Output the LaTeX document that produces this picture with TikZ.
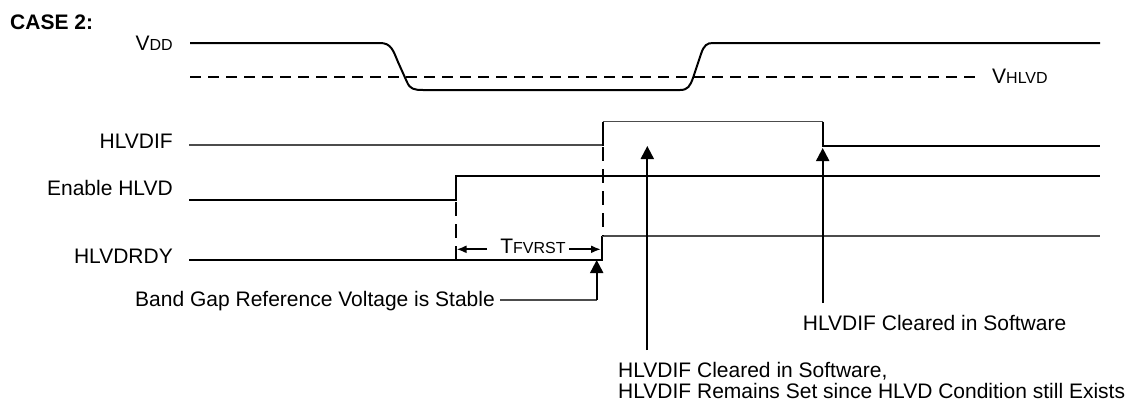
\documentclass[tikz,border=0pt]{standalone}
\usepackage{fontspec}
\setmainfont{Liberation Sans}
\usetikzlibrary{arrows.meta}
\newcommand\smcap[1]{{\fontsize{16}{16}\selectfont #1}}
\begin{document}
\begin{tikzpicture}[x=1pt,y=-1pt,
  lbl/.style={inner sep=0pt,font=\fontsize{21}{22}\selectfont},
  thickline/.style={line width=2pt,black},
  thinline/.style={line width=1.2pt,black!70},
  dashline/.style={line width=2pt,black,dash pattern=on 11pt off 7pt},
  vdashline/.style={line width=2pt,black,dash pattern=on 14pt off 8pt},
  uparrow/.style={line width=2pt,black,-{Triangle[length=13pt,width=13pt]}},
  dimarrow/.style={line width=2pt,black,-{Latex[length=10pt,width=8pt]}}]
\useasboundingbox (0,0) rectangle (1133,402);

% labels
\node[lbl,anchor=base west] (case) at (10,29) {\bfseries CASE 2:};
\node[lbl,anchor=base east] (vdd) at (173,50) {V\smcap{DD}};
\node[lbl,anchor=base west] (vhlvd) at (992,83) {V\smcap{HLVD}};
\node[lbl,anchor=base east] (hlvdif) at (173,148) {HLVDIF};
\node[lbl,anchor=base east] (en) at (173,195) {Enable HLVD};
\node[lbl,anchor=base east] (rdy) at (173,263) {HLVDRDY};

% VDD waveform
\draw[thickline] (190,43) -- (380,43)
  .. controls (391,43) and (393,50) .. (398,62) -- (407,82)
  .. controls (410,89) and (414,90) .. (423,90) -- (680,90)
  .. controls (688,90) and (690,86) .. (693,78) -- (701,54)
  .. controls (704,45) and (707,43) .. (713,43) -- (1100,43);
\draw[dashline] (190,77) -- (975,77);

% HLVDIF
\draw[thinline] (189,145) -- (602.7,145);
\draw[thickline] (602.7,146) -- (602.7,121.7);
\draw[thinline] (602.7,121.7) -- (822.7,121.7);
\draw[thickline] (822.7,121.7) -- (822.7,146) -- (1100,146);

% Enable HLVD
\draw[thickline] (189,199.5) -- (455.7,199.5) -- (455.7,175.7) -- (1100,175.7);

% HLVDRDY
\draw[thickline] (189,260) -- (601.7,260) -- (601.7,236);
\draw[thinline] (601.7,236) -- (1100,236);

% dashed markers
\draw[vdashline] (455.7,202) -- (455.7,259);
\draw[vdashline] (602.7,147) -- (602.7,236);

% TFVRST
\node[lbl,anchor=base] (tf) at (533,253) {T\smcap{FVRST}};
\coordinate (tl) at (456.5,249.3);
\coordinate (tr) at (601,249.3);
\draw[dimarrow] (487,249.3) -- (tl);
\draw[dimarrow] (569,249.3) -- (tr);

% Band gap
\node[lbl,anchor=base east] (bg) at (495,306) {Band Gap Reference Voltage is Stable};
\coordinate (bgc) at (500,300);
\coordinate (bgk) at (596.7,300);
\coordinate (bgt) at (596.7,260);
\draw[thinline] (bgc) -- (bgk);
\draw[uparrow] (bgk) -- (bgt);

% Cleared arrows
\coordinate (c1s) at (647.3,350);
\coordinate (c1t) at (647.3,146);
\coordinate (c2s) at (822.7,303);
\coordinate (c2t) at (822.7,148);
\draw[uparrow] (c1s) -- (c1t);
\draw[uparrow] (c2s) -- (c2t);

\node[lbl,anchor=base west] (clr2) at (802.7,330) {HLVDIF Cleared in Software};
\node[lbl,anchor=base west] (clr1a) at (618,377) {HLVDIF Cleared in Software,};
\node[lbl,anchor=base west] (clr1b) at (618,398) {HLVDIF Remains Set since HLVD Condition still Exists};
\end{tikzpicture}
\end{document}
